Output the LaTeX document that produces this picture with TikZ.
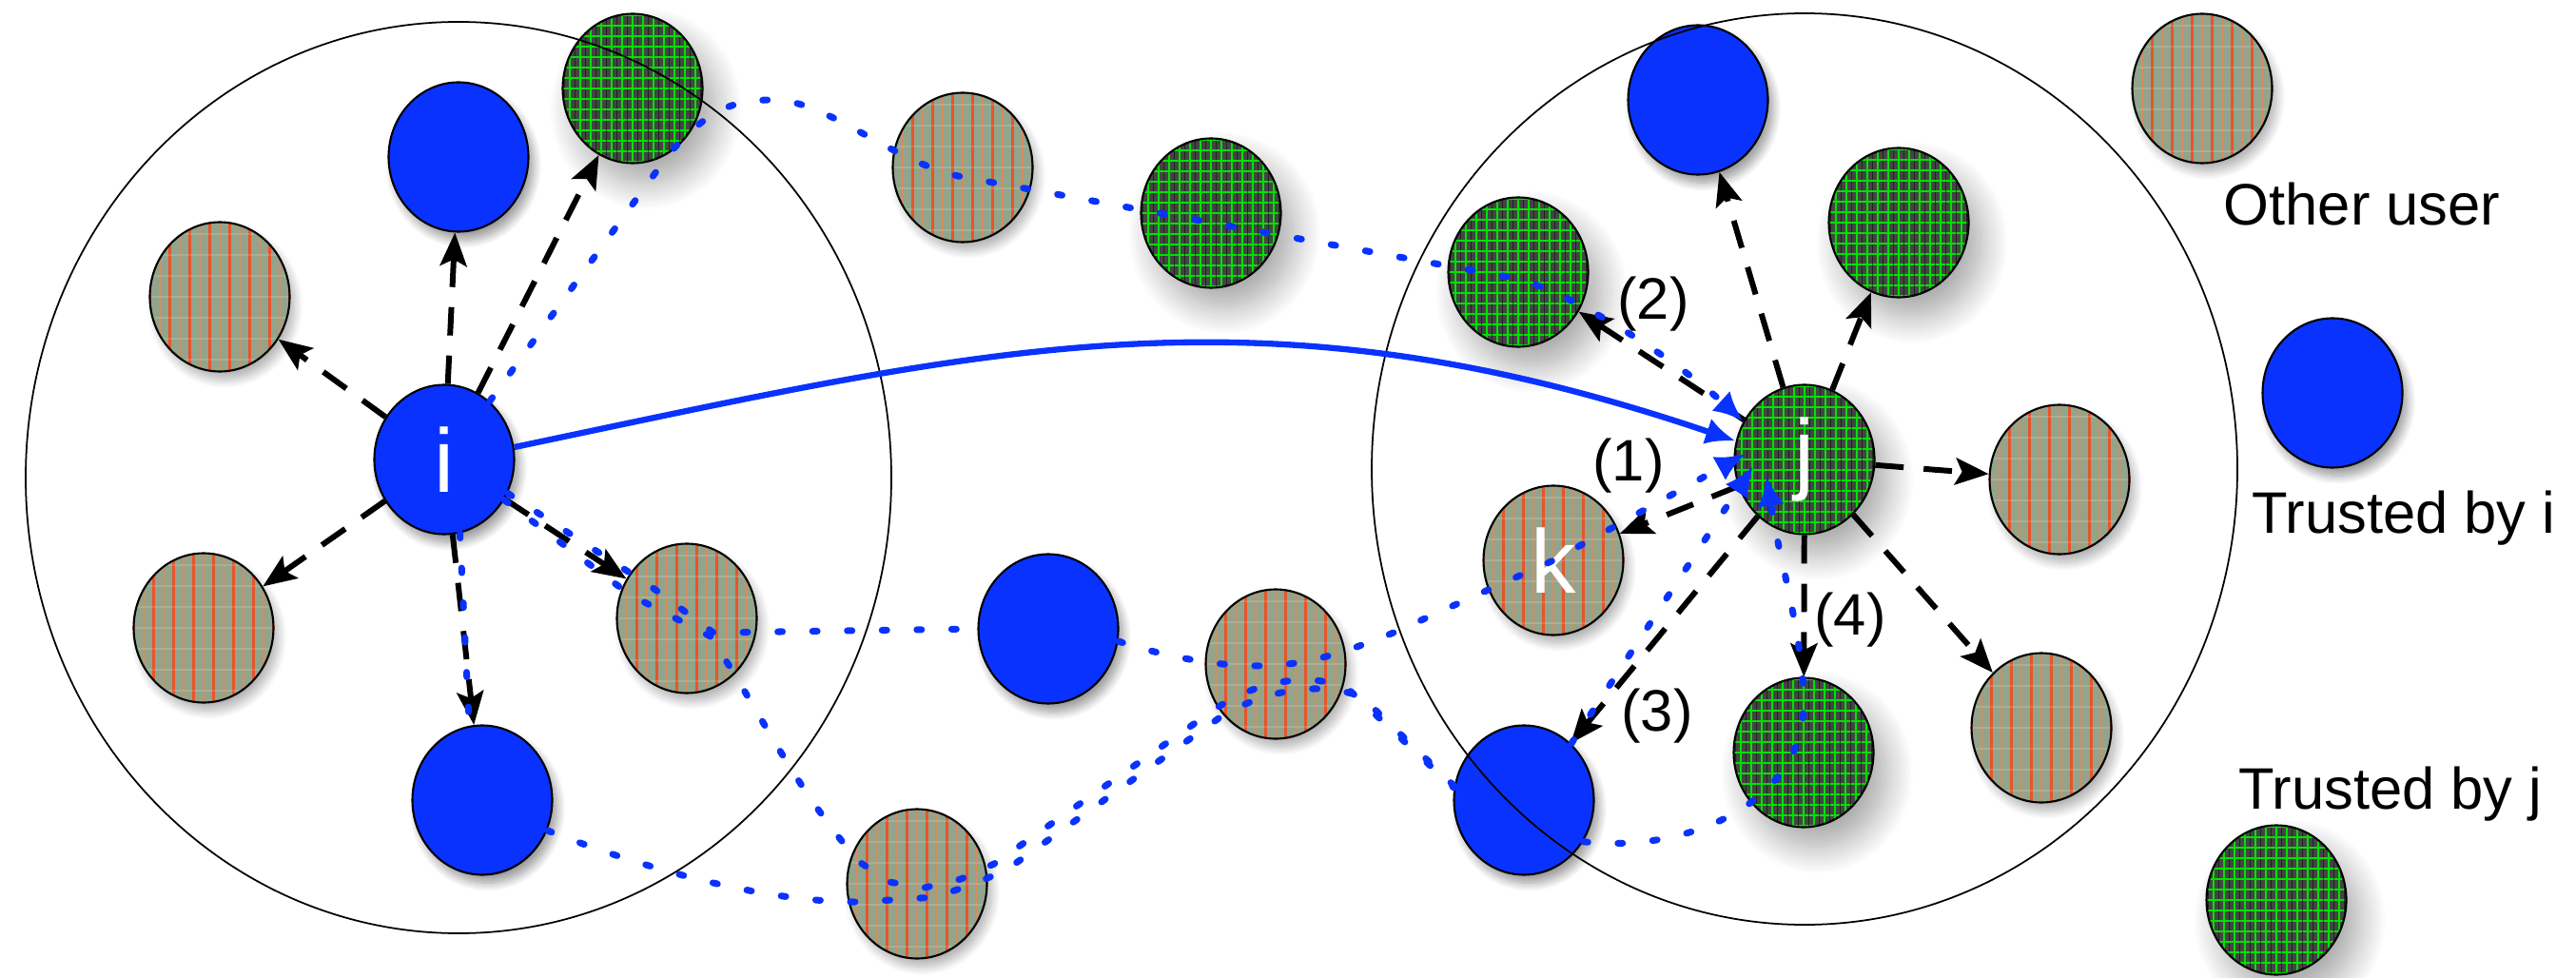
\documentclass[tikz,border=0pt]{standalone}
\usepackage{fontspec}
\setmainfont{Liberation Sans}
\usetikzlibrary{arrows.meta,shapes.geometric,shadows.blur,calc}

\definecolor{trustblue}{RGB}{10,50,255}
\definecolor{otherbg}{RGB}{146,164,139}
\definecolor{otherred}{RGB}{232,84,40}
\definecolor{otherorange}{RGB}{214,140,96}
\definecolor{gridbg}{RGB}{68,68,68}
\definecolor{gridgreen}{RGB}{0,225,0}

\begin{document}
\begin{tikzpicture}[
    user/.style={ellipse, draw=black, line width=0.6pt, minimum width=1.47cm,
        minimum height=1.57cm, inner sep=0pt, text=white,
        font=\fontsize{27}{27}\selectfont},
    trusti/.style={user, fill=trustblue,
        blur shadow={shadow xshift=1.5pt, shadow yshift=-2.5pt,
            shadow blur radius=2.5pt, shadow blur steps=12, shadow opacity=40}},
    other/.style={user, fill=otherbg,
        blur shadow={shadow xshift=1.5pt, shadow yshift=-2.5pt,
            shadow blur radius=2.5pt, shadow blur steps=12, shadow opacity=30},
        path picture={
            \foreach \k in {-7,-5,...,7}
                \draw[otherred, line width=0.7pt]
                    ([xshift=\k*1.05mm]path picture bounding box.south) --
                    ([xshift=\k*1.05mm]path picture bounding box.north);
            \foreach \k in {-6,-4,...,6}
                \draw[otherorange, line width=0.5pt]
                    ([xshift=\k*1.05mm]path picture bounding box.south) --
                    ([xshift=\k*1.05mm]path picture bounding box.north);
            \foreach \k in {-3,...,3}
                \draw[white, opacity=0.15, line width=0.5pt]
                    ([yshift=\k*2.2mm]path picture bounding box.west) --
                    ([yshift=\k*2.2mm]path picture bounding box.east);
        }},
    trustj/.style={user, fill=gridbg,
        blur shadow={shadow xshift=4pt, shadow yshift=-6pt,
            shadow blur radius=8pt, shadow blur steps=20, shadow opacity=35},
        path picture={
            \foreach \k in {-8,...,8}
            {
                \draw[black, line width=0.3pt, opacity=0.5]
                    ([xshift=\k*1.1mm+0.55mm]path picture bounding box.south) --
                    ([xshift=\k*1.1mm+0.55mm]path picture bounding box.north);
                \draw[gridgreen, line width=0.35pt]
                    ([xshift=\k*1.1mm]path picture bounding box.south) --
                    ([xshift=\k*1.1mm]path picture bounding box.north);
                \draw[gridgreen, line width=0.35pt]
                    ([yshift=\k*1.1mm]path picture bounding box.west) --
                    ([yshift=\k*1.1mm]path picture bounding box.east);
            }
        }},
    neighbourhood/.style={ellipse, draw=black, line width=0.5pt, inner sep=0pt,
        minimum width=9.1cm, minimum height=9.58cm},
    trustarrow/.style={draw=black, line width=1.7pt, dash pattern=on 8.5pt off 6pt,
        -{Stealth[length=10pt,width=8pt,inset=2pt]}},
    trustpath/.style={draw=trustblue, line width=2pt, line cap=round,
        dash pattern=on 1.4pt off 9pt},
    directtrust/.style={draw=trustblue, line width=1.8pt},
    bluetip/.style={-{Latex[length=9pt,width=8pt]}},
    steplabel/.style={font=\fontsize{17.5}{18}\selectfont},
    legendtext/.style={font=\fontsize{17.5}{18}\selectfont}
]

\useasboundingbox (0,0) rectangle (27.08,10.27);

% Voisinage de i
\node[trusti] (i) at (4.67,5.44) {i};
\node[trusti] (btop) at (4.82,8.62) {};
\node[trustj] (gtop) at (6.65,9.34) {};
\node[other] (sul) at (2.31,7.15) {};
\node[other] (sll) at (2.14,3.67) {};
\node[other] (sright) at (7.22,3.77) {};
\node[trusti] (bbot) at (5.07,1.86) {};

% Entre les deux
\node[other] (stop) at (10.12,8.51) {};
\node[trustj] (gmid) at (12.73,8.03) {};
\node[trusti] (bmid) at (11.02,3.66) {};
\node[other] (smlow) at (13.41,3.29) {};
\node[other] (sbot) at (9.64,0.98) {};

% Voisinage de j
\node[trustj] (j) at (18.97,5.44) {j};
\node[trusti] (jbtop) at (17.85,9.22) {};
\node[trustj] (gul) at (15.96,7.41) {};
\node[trustj] (gur) at (19.96,7.93) {};
\node[other] (sjr) at (21.65,5.23) {};
\node[other] (k) at (16.33,4.38) {k};
\node[other] (sjlr) at (21.46,2.62) {};
\node[trustj] (glow) at (18.96,2.36) {};
\node[trusti] (blow) at (16.02,1.86) {};

\node[neighbourhood] (zonei) at (4.82,5.25) {};
\node[neighbourhood] (zonej) at (18.97,5.34) {};

% Confiance directe
\foreach \n in {btop,gtop,sul,sll,sright,bbot}
{
    \draw[trustarrow] (i) -- (\n);
}

\foreach \n in {jbtop,gur,gul,sjr,k,blow,glow,sjlr}
{
    \draw[trustarrow] (j) -- (\n);
}

\node[steplabel] (l1) at (17.12,5.37) {(1)};
\node[steplabel] (l2) at (17.38,7.07) {(2)};
\node[steplabel] (l3) at (17.42,2.74) {(3)};
\node[steplabel] (l4) at (19.45,3.75) {(4)};

% Chemins de confiance
\coordinate (jin2) at ($(j)+(-0.62,0.06)$);
\coordinate (jin3) at ($(j)+(-0.54,-0.07)$);
\coordinate (jin4) at ($(j)+(-0.40,-0.17)$);

\draw[trustpath, bluetip] (i.52) -- (gtop.-60)
    .. controls (7.45,9.12) and (7.7,9.22) .. (8.13,9.22)
    .. controls (8.7,9.22) and (9.4,8.55) .. (10.12,8.41)
    -- (12.73,7.93) -- (15.96,7.34)
    .. controls (16.6,7.15) and (17.6,6.5) .. (j.148);

\draw[trustpath] (i.-28) -- (6.85,4.10) -- (7.50,3.62) -- (bmid.west);

\draw[trustpath] (i.-34) -- (6.62,4.02) -- (7.47,3.58)
    to[out=-57,in=130] (9.02,1.22) -- (9.34,1.00) -- (9.72,0.94)
    -- (10.10,1.03) -- (10.45,1.19) -- (12.75,2.80)
    .. controls (13.2,3.12) and (13.8,3.22) .. (14.18,3.02) -- (blow.170);

\draw[trustpath] (i.-78) -- (bbot.100);

\draw[trustpath] (bbot.-25) .. controls (7.0,1.05) and (8.2,0.78) .. (9.05,0.79)
    -- (9.83,0.84) -- (10.21,0.97) -- (10.57,1.12) -- (12.84,2.74)
    .. controls (13.3,3.02) and (13.9,3.12) .. (14.32,2.94) -- (15.4,1.9);

\draw[trustpath, bluetip] (bmid.-10)
    .. controls (12.3,3.35) and (13.0,3.22) .. (13.54,3.29)
    .. controls (13.95,3.34) and (14.3,3.48) .. (14.65,3.62)
    -- (k.center) -- (jin2);

\draw[trustpath, bluetip] (blow.50) -- (jin3);

\draw[trustpath, bluetip] (blow.-35)
    .. controls (17.7,1.3) and (18.9,1.8) .. (18.96,2.8)
    .. controls (18.98,3.5) and (18.7,4.4) .. (jin4);

\draw[directtrust, bluetip] (i.10) .. controls (10.41,6.62) and (13.22,7.34) .. (j.165);

% Legende
\node[other] (legother) at (23.15,9.34) {};
\node[legendtext] (txtother) at (24.83,8.12) {Other user};
\node[trusti] (legi) at (24.52,6.14) {};
\node[legendtext] (txti) at (25.27,4.82) {Trusted by i};
\node[legendtext] (txtj) at (25.13,1.92) {Trusted by j};
\node[trustj] (legj) at (23.93,0.81) {};

\end{tikzpicture}
\end{document}
